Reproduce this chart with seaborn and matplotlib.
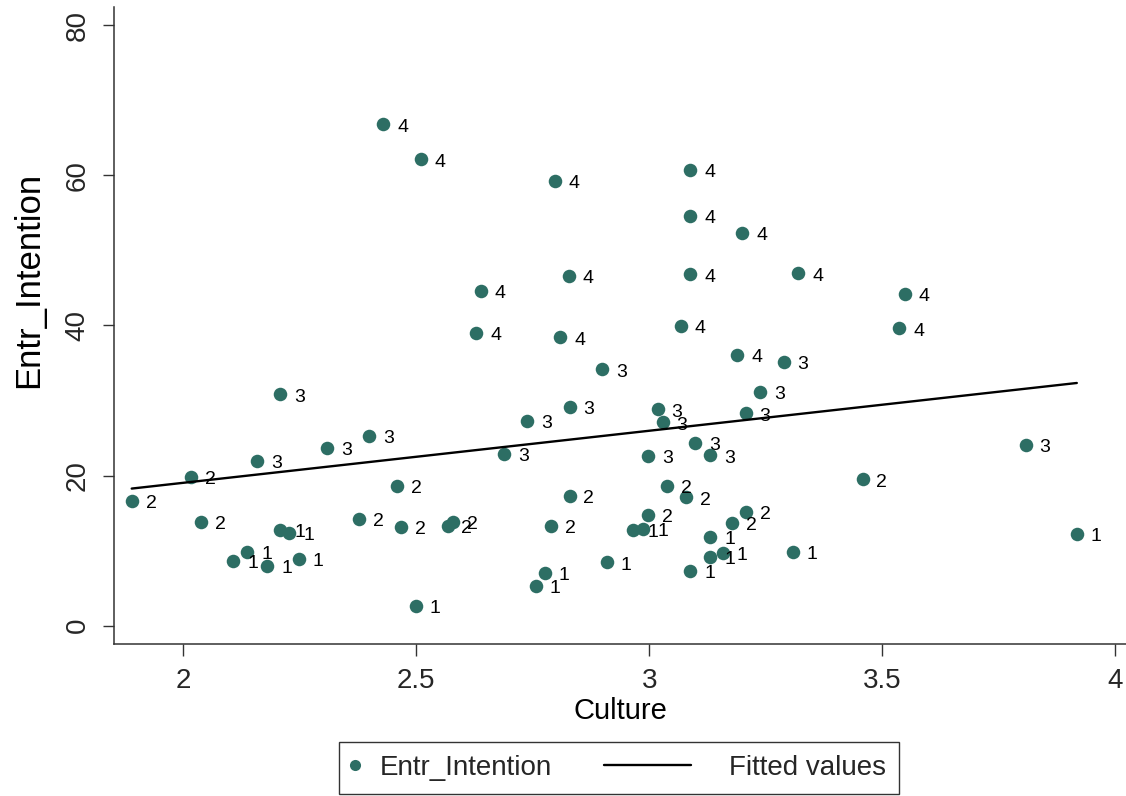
import numpy as np
import pandas as pd
import matplotlib
matplotlib.use("Agg")
import matplotlib.pyplot as plt
import seaborn as sns
from matplotlib.lines import Line2D
from matplotlib.legend_handler import HandlerLine2D

# ---------------- data ----------------
culture = [
    # label 4
    2.429, 2.510, 2.797, 3.088, 3.088, 3.200, 3.088, 3.320, 2.828, 2.638, 3.549, 2.629, 2.809, 3.068, 3.537, 3.189,
    # label 3
    2.899, 3.289, 2.208, 2.399, 2.308, 2.158, 2.829, 2.738, 2.688, 3.238, 3.018, 3.029, 3.207, 3.098, 3.131, 2.998, 3.808,
    # label 2
    1.889, 2.017, 2.037, 2.378, 2.458, 2.467, 2.567, 2.578, 2.829, 2.789, 3.038, 3.079, 2.998, 3.207, 3.177, 3.458,
    # label 1
    2.107, 2.137, 2.180, 2.248, 2.208, 2.227, 2.499, 2.776, 2.757, 2.909, 2.966, 2.987, 3.131, 3.131, 3.158, 3.088, 3.308, 3.918,
]
entr_intention = [
    66.77, 62.11, 59.26, 60.73, 54.56, 52.34, 46.80, 46.93, 46.57, 44.57, 44.17, 39.02, 38.41, 39.95, 39.61, 36.05,
    34.15, 35.16, 30.82, 25.26, 23.67, 21.93, 29.17, 27.30, 22.87, 31.12, 28.82, 27.09, 28.29, 24.33, 22.69, 22.60, 24.07,
    16.61, 19.84, 13.81, 14.21, 18.60, 13.18, 13.32, 13.85, 17.31, 13.32, 18.60, 17.10, 14.74, 15.14, 13.72, 19.50,
    8.62, 9.86, 7.99, 8.92, 12.74, 12.39, 2.66, 7.06, 5.33, 8.42, 12.74, 12.88, 11.85, 9.19, 9.72, 7.28, 9.86, 12.21,
]
group = [4] * 16 + [3] * 17 + [2] * 16 + [1] * 18

x_ticks = [2, 2.5, 3, 3.5, 4]
x_tick_labels = ["2", "2.5", "3", "3.5", "4"]
y_ticks = [0, 20, 40, 60, 80]
y_tick_labels = ["0", "20", "40", "60", "80"]

df = pd.DataFrame({"Culture": culture, "Entr_Intention": entr_intention, "group": group})

# ---------------- style ----------------
sns.set_theme(style="white")
plt.rcParams["font.family"] = ["Liberation Sans", "DejaVu Sans"]

tick_fs, xlab_fs, leg_fs, pt_fs, ylab_fs = 20, 21, 20, 14, 25

teal = "#2d6e64"
axis_col = "#333333"

fig = plt.figure(figsize=(11.26, 7.96), dpi=100)
ax = fig.add_axes([114 / 1126, 1 - 643.7 / 796, 1 - 114 / 1126, (643.7 - 7) / 796])

sns.scatterplot(data=df, x="Culture", y="Entr_Intention", color=teal, s=95,
                linewidth=0, ax=ax, legend=False, zorder=3)
sns.regplot(data=df, x="Culture", y="Entr_Intention", scatter=False, ci=None,
            color="black", line_kws=dict(lw=1.7, zorder=4), ax=ax)

for xv, yv, g in zip(df["Culture"], df["Entr_Intention"], df["group"]):
    ax.annotate(str(g), (xv, yv), xytext=(10, -2), textcoords="offset points",
                ha="left", va="center", fontsize=pt_fs, color="black", zorder=5)

ax.set_xlim(1.851, 4.0236)
ax.set_ylim(-2.4, 82.4)
ax.set_xticks(x_ticks)
ax.set_xticklabels(x_tick_labels, fontsize=tick_fs)
ax.set_yticks(y_ticks)
ax.set_yticklabels(y_tick_labels, fontsize=tick_fs, rotation=90, va="center")

ax.tick_params(axis="x", direction="out", length=8.6, width=1, color=axis_col, pad=9, bottom=True)
ax.tick_params(axis="y", direction="out", length=8, width=1, color=axis_col, pad=9, left=True)

for side in ["top", "right"]:
    ax.spines[side].set_visible(False)
for side in ["left", "bottom"]:
    ax.spines[side].set_color(axis_col)
    ax.spines[side].set_linewidth(1.1)

ax.set_xlabel("Culture", fontsize=xlab_fs, labelpad=2, color="black")
ax.set_ylabel("Entr_Intention", fontsize=ylab_fs, color="black")
ax.yaxis.set_label_coords(-0.068, 0.571)
ax.grid(False)


# ---------------- legend ----------------
class ShiftedLine(HandlerLine2D):
    def __init__(self, x0_pt, x1_pt, **kw):
        super().__init__(**kw)
        self.x0_pt, self.x1_pt = x0_pt, x1_pt

    def get_xdata(self, legend, xdescent, ydescent, width, height, fontsize):
        xd = np.array([-xdescent + self.x0_pt, -xdescent + self.x1_pt])
        return xd, xd


F_px = leg_fs * 100 / 72
px2pt = 0.72
h_scatter = Line2D([], [], marker="o", linestyle="none", color=teal, markersize=8, markeredgewidth=0)
h_line = Line2D([], [], color="black", lw=1.7)
leg = fig.legend(
    [h_scatter, h_line], ["Entr_Intention", "Fitted values"],
    loc="upper center", bbox_to_anchor=(619 / 1126, 1 - 742 / 796), bbox_transform=fig.transFigure,
    ncol=2, frameon=True, fancybox=False, shadow=False, framealpha=1,
    edgecolor=axis_col, prop={"size": leg_fs},
    borderpad=13 / F_px, handlelength=6 / F_px, handletextpad=21 / F_px,
    columnspacing=150 / F_px, borderaxespad=0,
    handler_map={h_line: ShiftedLine(-98 * px2pt, -11 * px2pt)},
)
leg.get_frame().set_linewidth(1.0)

fig.savefig("out.png", dpi=100)
